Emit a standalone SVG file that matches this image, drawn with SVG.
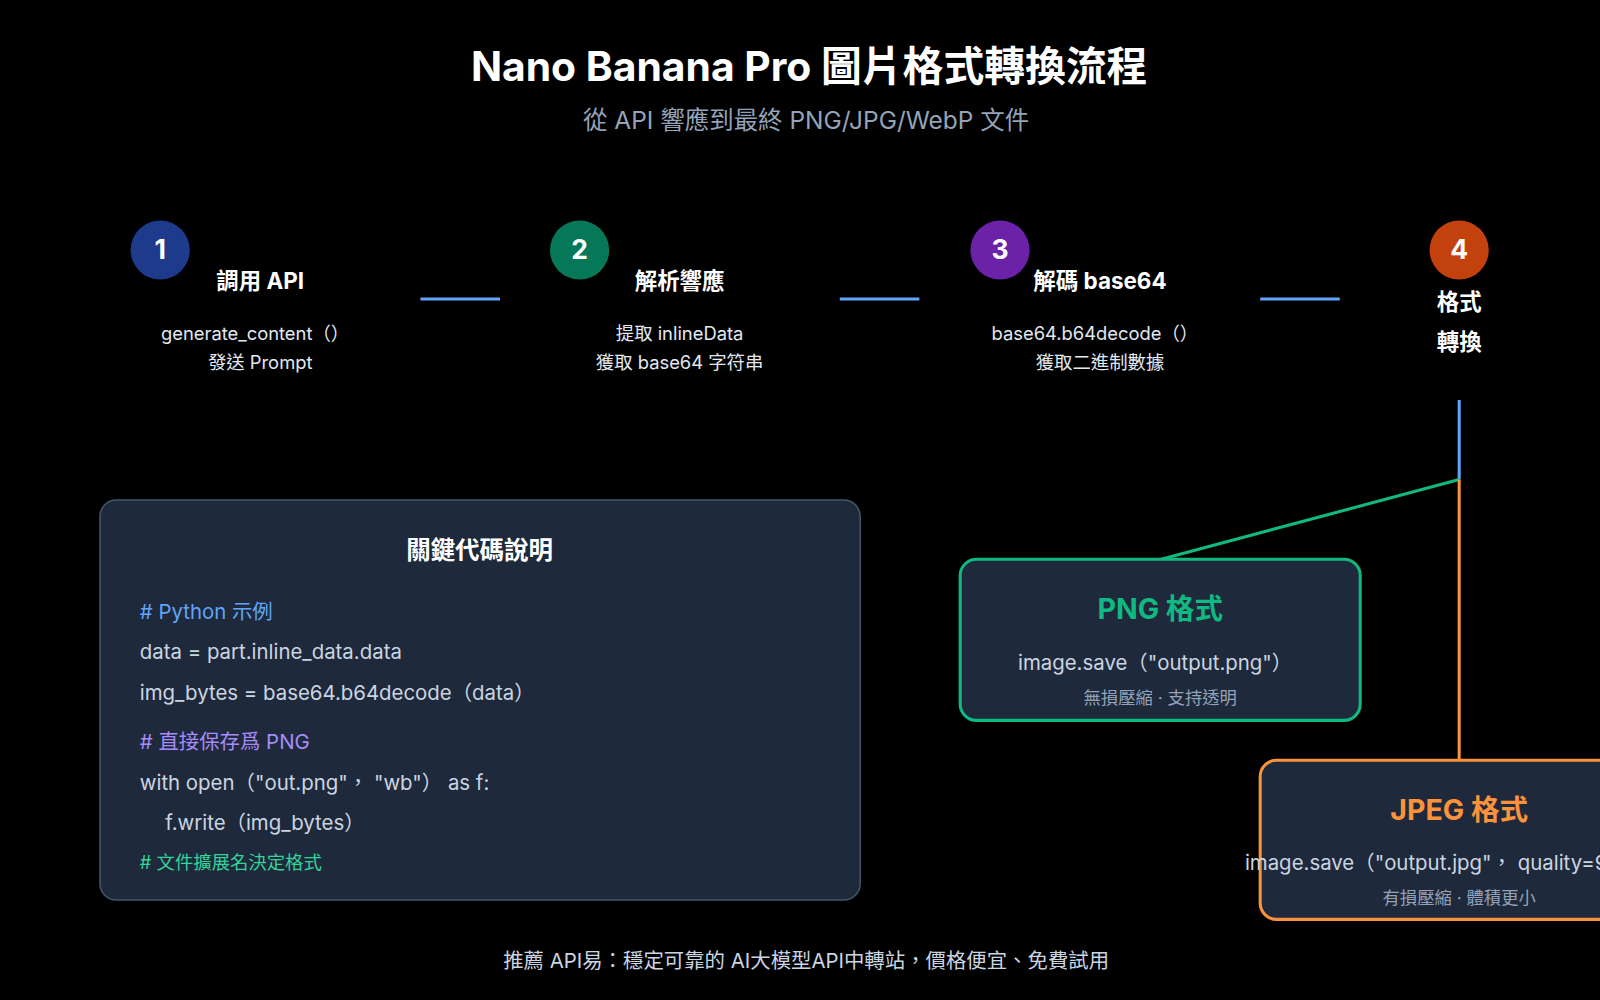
<svg xmlns="http://www.w3.org/2000/svg" width="1600" height="1000" viewBox="0 0 1600 1000">
<style>
text{font-family:Inter,"Noto Sans","Noto Sans CJK TC",sans-serif;text-anchor:middle}
.num{fill:#fff;font-size:26px;font-weight:700}
.st{fill:#fff;font-size:22px;font-weight:700}
.ds{fill:#e2e8f0;font-size:18px}
.code{fill:#cbd5e1;font-size:20px;text-anchor:start}
.box{fill:#1e293b}
</style>
<rect width="1600" height="1000" fill="#000"/>
<g transform="scale(1.0204)">
<text x="793" y="79" fill="#fff" font-size="40" font-weight="700">Nano Banana Pro 圖片格式轉換流程</text>
<text x="790" y="126" fill="#94a3b8" font-size="24">從 API 響應到最終 PNG/JPG/WebP 文件</text>
<g id="connectors" fill="none" stroke-width="3">
<path d="M412 293H490M823 293H901M1235 293H1313M1430 392V470" stroke="#60a5fa"/>
<path d="M1430 470L1138 548" stroke="#10b981"/>
<path d="M1430 470V745" stroke="#fb923c"/>
</g>
<g id="step1"><circle cx="157" cy="245" r="29" fill="#1e3a8a"/><text x="157" y="254" class="num">1</text>
<text x="255" y="283" class="st">調用 API</text><text x="250" y="333" class="ds">generate_content（）</text><text x="255" y="362" class="ds">發送 Prompt</text></g>
<g id="step2"><circle cx="568" cy="245" r="29" fill="#047857"/><text x="568" y="254" class="num">2</text>
<text x="666" y="283" class="st">解析響應</text><text x="666" y="333" class="ds">提取 inlineData</text><text x="666" y="362" class="ds">獲取 base64 字符串</text></g>
<g id="step3"><circle cx="980" cy="245" r="29" fill="#6b21a8"/><text x="980" y="254" class="num">3</text>
<text x="1078" y="283" class="st">解碼 base64</text><text x="1073" y="333" class="ds">base64.b64decode（）</text><text x="1078" y="362" class="ds">獲取二進制數據</text></g>
<g id="step4"><circle cx="1430" cy="245" r="29" fill="#c2410c"/><text x="1430" y="254" class="num">4</text>
<text x="1430" y="304" class="st">格式</text><text x="1430" y="343" class="st">轉換</text></g>
<g id="code">
<rect x="98" y="490" width="745" height="392" rx="16" class="box" stroke="#475569" stroke-width="1.5"/>
<text x="470" y="548" fill="#fff" font-size="24" font-weight="700">關鍵代碼說明</text>
<text x="137" y="607" class="code" fill="#60a5fa" style="fill:#60a5fa"># Python 示例</text>
<text x="137" y="646" class="code">data = part.inline_data.data</text>
<text x="137" y="686" class="code">img_bytes = base64.b64decode（data）</text>
<text x="137" y="734" class="code" style="fill:#a78bfa"># 直接保存爲 PNG</text>
<text x="137" y="774" class="code">with open（"out.png"， "wb"） as f:</text>
<text x="162" y="813" class="code">f.write（img_bytes）</text>
<text x="137" y="852" class="code" style="fill:#34d399;font-size:18px"># 文件擴展名決定格式</text>
</g>
<g id="png">
<rect x="941" y="548" width="392" height="158" rx="16" class="box" stroke="#10b981" stroke-width="3"/>
<text x="1137" y="607" fill="#10b981" font-size="28" font-weight="700">PNG 格式</text>
<text x="1132" y="657" fill="#cbd5e1" font-size="20">image.save（"output.png"）</text>
<text x="1137" y="690" fill="#94a3b8" font-size="17">無損壓縮 · 支持透明</text>
</g>
<g id="jpeg">
<rect x="1235" y="745" width="392" height="156" rx="16" class="box" stroke="#fb923c" stroke-width="3"/>
<text x="1430" y="804" fill="#fb923c" font-size="28" font-weight="700">JPEG 格式</text>
<text x="1220" y="853" fill="#cbd5e1" font-size="20" style="text-anchor:start">image.save（"output.jpg"， quality=95）</text>
<text x="1430" y="886" fill="#94a3b8" font-size="17">有損壓縮 · 體積更小</text>
</g>
<text x="790" y="949" fill="#cbd5e1" font-size="20">推薦 API易：穩定可靠的 AI大模型API中轉站，價格便宜、免費試用</text>
</g>
</svg>
